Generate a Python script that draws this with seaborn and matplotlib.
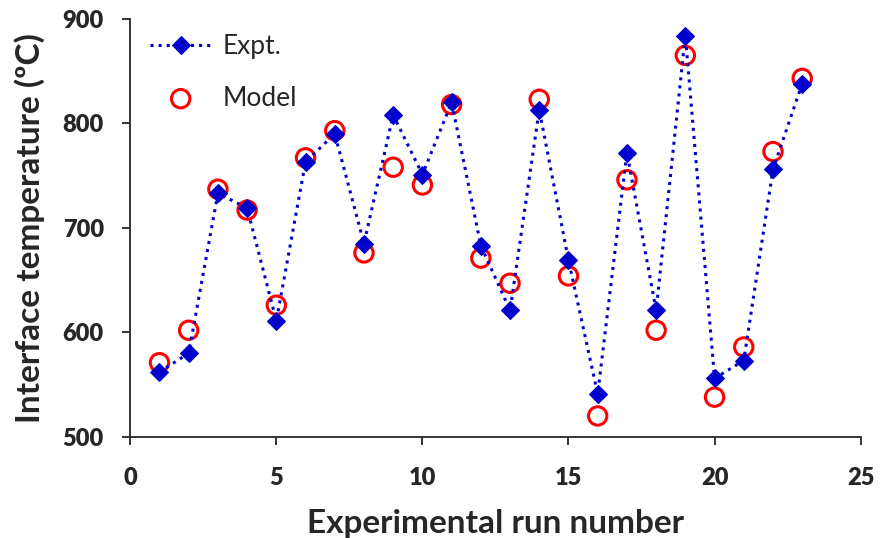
import numpy as np
import pandas as pd
import matplotlib.pyplot as plt
import seaborn as sns

# run numbers and temperatures
runs = list(range(1, 24))
expt = [562, 580, 733, 719, 611, 763, 790, 685, 808, 751, 820, 683,
        621, 813, 669, 541, 772, 621, 884, 556, 573, 756, 838]
model = [571, 602, 737, 717, 626, 767, 793, 676, 758, 741, 818, 671,
         647, 823, 654, 520, 746, 602, 865, 538, 586, 773, 843]
xticks = [0, 5, 10, 15, 20, 25]
yticks = [500, 600, 700, 800, 900]

dados = pd.DataFrame({'run': runs, 'Expt.': expt, 'Model': model})

sns.set_style('ticks')
plt.rcParams['font.family'] = ['Lato', 'DejaVu Sans']

fig, ax = plt.subplots(figsize=(8.8, 5.38), dpi=100)
fig.subplots_adjust(left=0.148, right=0.978, top=0.965, bottom=0.188)

sns.lineplot(x='run', y='Expt.', data=dados, ax=ax, color='#0000CC',
             linestyle=':', linewidth=2.2, marker='D', markersize=9,
             markeredgecolor='#0000CC', label='Expt.')
sns.scatterplot(x='run', y='Model', data=dados, ax=ax, marker='o', s=175,
                facecolors='none', edgecolor='red', linewidth=2.2, label='Model')

ax.set_xlim(0, 25)
ax.set_ylim(500, 900)
ax.set_xticks(xticks, labels=[str(t) for t in xticks], fontweight='heavy', fontsize=17)
ax.set_yticks(yticks, labels=[str(t) for t in yticks], fontweight='heavy', fontsize=17)
ax.tick_params(direction='out', length=6, width=1.3)
ax.tick_params(axis='x', pad=16)
ax.tick_params(axis='y', pad=13)
for sp in ['left', 'bottom']:
    ax.spines[sp].set_linewidth(1.3)
sns.despine(ax=ax)

ax.set_xlabel('Experimental run number', fontsize=24, fontweight='bold', labelpad=14)
ax.set_ylabel('Interface temperature (ºC)', fontsize=24, fontweight='bold', labelpad=13)

ax.legend(loc='upper left', frameon=False, fontsize=19, handlelength=2.3,
          handletextpad=0.45, labelspacing=1.0, bbox_to_anchor=(-0.005, 1.02))

plt.savefig('out.png', dpi=100)
